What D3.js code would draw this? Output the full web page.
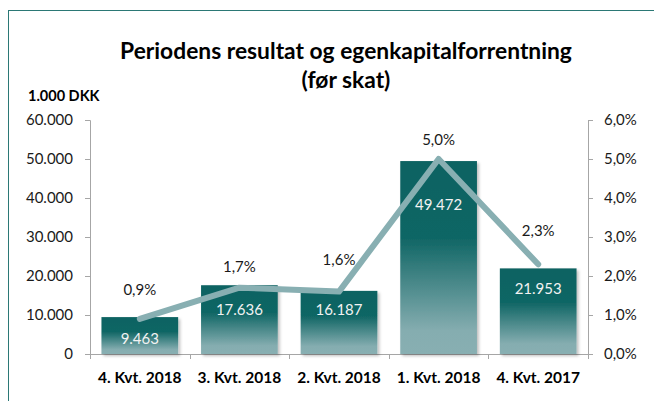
<!DOCTYPE html>
<html>
<head>
<meta charset="utf-8">
<script src="https://cdn.jsdelivr.net/npm/d3@7"></script>
<style>
  body { margin: 0; background: #fff; }
  svg { display: block; font-family: Lato, "Open Sans", sans-serif; }
</style>
</head>
<body>
<div id="chart"></div>
<script>
// data
var categories = ["4. Kvt. 2018", "3. Kvt. 2018", "2. Kvt. 2018", "1. Kvt. 2018", "4. Kvt. 2017"];
var resultat = [9463, 17636, 16187, 49472, 21953];
var forrentning = [0.9, 1.7, 1.6, 5.0, 2.3];
var leftTicks = [0, 10000, 20000, 30000, 40000, 50000, 60000];
var rightTicks = [0, 1, 2, 3, 4, 5, 6];

var width = 654, height = 401;
var margin = { top: 120, left: 90, right: 66, bottom: 47 };

var svg = d3.select("#chart")
    .append("svg")
    .attr("width", width)
    .attr("height", height);

// frame
svg.append("rect")
    .attr("x", 8.5).attr("y", 10.5)
    .attr("width", 700).attr("height", 420)
    .attr("fill", "none")
    .attr("stroke", "#2b7875")
    .attr("stroke-width", 1);

var defs = svg.append("defs");
var grad = defs.append("linearGradient")
    .attr("id", "barGrad")
    .attr("x1", 0).attr("y1", 0).attr("x2", 0).attr("y2", 1);
grad.append("stop").attr("offset", "0%").attr("stop-color", "#0c6362");
grad.append("stop").attr("offset", "40%").attr("stop-color", "#106665");
grad.append("stop").attr("offset", "88%").attr("stop-color", "#85adb0");
grad.append("stop").attr("offset", "100%").attr("stop-color", "#88afb2");

var shadow = defs.append("filter").attr("id", "shadow")
    .attr("x", "-10%").attr("y", "-10%").attr("width", "130%").attr("height", "130%");
shadow.append("feDropShadow")
    .attr("dx", 2).attr("dy", 2).attr("stdDeviation", 1.5)
    .attr("flood-color", "#000").attr("flood-opacity", 0.25);

// title
var title = svg.append("text")
    .attr("text-anchor", "middle")
    .attr("font-weight", "bold")
    .attr("font-size", 22.8)
    .attr("fill", "#000");
title.append("tspan").attr("x", 346).attr("y", 59).text("Periodens resultat og egenkapitalforrentning");
title.append("tspan").attr("x", 346).attr("y", 88).text("(før skat)");

svg.append("text")
    .attr("x", 28).attr("y", 101)
    .attr("font-weight", "bold")
    .attr("font-size", 14.5)
    .text("1.000 DKK");

var plotW = width - margin.left - margin.right;
var x = d3.scaleBand()
    .domain(categories)
    .range([margin.left, width - margin.right])
    .paddingInner(0.23)
    .paddingOuter(0.115);

var y = d3.scaleLinear()
    .domain([0, 60000])
    .range([height - margin.bottom, margin.top]);

var y2 = d3.scaleLinear()
    .domain([0, 6])
    .range([height - margin.bottom, margin.top]);

var fmtInt = function (v) { return d3.format(",.0f")(v).replace(/,/g, "."); };
var fmtPct = function (v) { return d3.format(".1f")(v).replace(".", ",") + "%"; };

// left axis
var gl = svg.append("g")
    .attr("transform", "translate(" + margin.left + ",0)")
    .call(d3.axisLeft(y).tickValues(leftTicks).tickFormat(fmtInt).tickSize(5).tickPadding(12));
// right axis
var gr = svg.append("g")
    .attr("transform", "translate(" + (width - margin.right) + ",0)")
    .call(d3.axisRight(y2).tickValues(rightTicks).tickFormat(fmtPct).tickSize(5).tickPadding(11));

[gl, gr].forEach(function (g) {
    g.select(".domain").attr("stroke", "#a6a6a6");
    g.selectAll(".tick line").attr("stroke", "#a6a6a6");
    g.selectAll(".tick text")
        .attr("font-size", 15)
        .attr("font-family", "Lato, sans-serif")
        .attr("fill", "#1a1a1a");
});

// bottom axis
var xb = height - margin.bottom;
svg.append("line")
    .attr("x1", margin.left).attr("x2", width - margin.right)
    .attr("y1", xb + 0.5).attr("y2", xb + 0.5)
    .attr("stroke", "#a6a6a6");
svg.selectAll(".xtick")
    .data(d3.range(categories.length + 1))
    .enter().append("line")
    .attr("x1", function (i) { return Math.round(margin.left + i * plotW / categories.length) + 0.5; })
    .attr("x2", function (i) { return Math.round(margin.left + i * plotW / categories.length) + 0.5; })
    .attr("y1", xb).attr("y2", xb + 5)
    .attr("stroke", "#a6a6a6");

svg.selectAll(".xlabel")
    .data(categories)
    .enter().append("text")
    .attr("x", function (d) { return x(d) + x.bandwidth() / 2; })
    .attr("y", xb + 29)
    .attr("text-anchor", "middle")
    .attr("font-weight", "bold")
    .attr("font-size", 15.5)
    .text(function (d) { return d; });

// bars
svg.selectAll(".bar")
    .data(resultat)
    .enter().append("rect")
    .attr("class", "bar")
    .attr("x", function (d, i) { return x(categories[i]); })
    .attr("y", function (d) { return y(d); })
    .attr("width", x.bandwidth())
    .attr("height", function (d) { return y(0) - y(d); })
    .attr("fill", "url(#barGrad)")
    .attr("filter", "url(#shadow)");

// bar labels (tall bar label pushed below the line)
var barLabelDy = [22, 25, 19, 44, 21];
svg.selectAll(".barlabel")
    .data(resultat)
    .enter().append("text")
    .attr("x", function (d, i) { return x(categories[i]) + x.bandwidth() / 2; })
    .attr("y", function (d, i) { return y(d) + barLabelDy[i] + 5; })
    .attr("text-anchor", "middle")
    .attr("font-size", 15)
    .attr("fill", "#f2f2f2")
    .text(fmtInt);

// line
var line = d3.line()
    .x(function (d, i) { return x(categories[i]) + x.bandwidth() / 2; })
    .y(function (d) { return y2(d); });

svg.append("path")
    .datum(forrentning)
    .attr("d", line)
    .attr("fill", "none")
    .attr("stroke", "#88afb2")
    .attr("stroke-width", 6)
    .attr("stroke-linecap", "round")
    .attr("stroke-linejoin", "round");

var pctLabelLift = [29, 21, 32, 19, 33];
svg.selectAll(".pctlabel")
    .data(forrentning)
    .enter().append("text")
    .attr("x", function (d, i) { return x(categories[i]) + x.bandwidth() / 2; })
    .attr("y", function (d, i) { return y2(d) - pctLabelLift[i] + 5; })
    .attr("text-anchor", "middle")
    .attr("font-size", 15)
    .attr("fill", "#1a1a1a")
    .text(fmtPct);
</script>
</body>
</html>
